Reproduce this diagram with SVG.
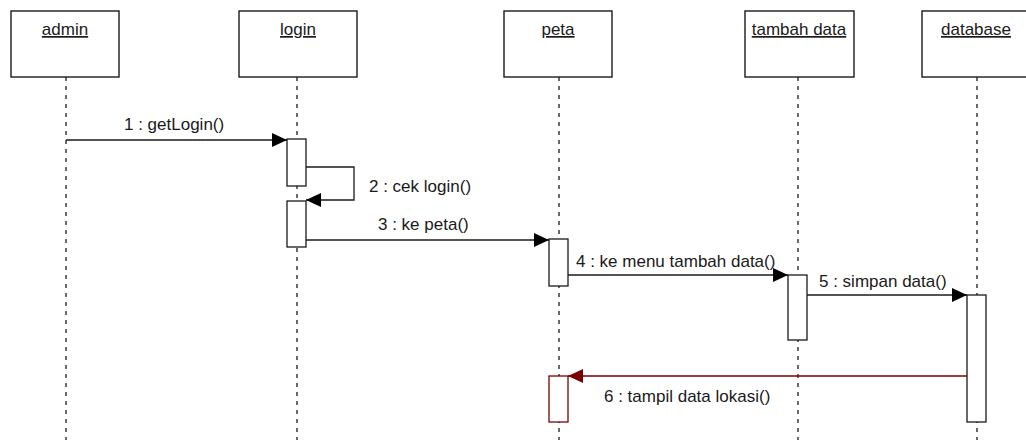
<svg xmlns="http://www.w3.org/2000/svg" width="1026" height="443" viewBox="0 0 1026 443">
<style>
.obj{fill:#fff;stroke:#1a1a1a;stroke-width:1.4}
.life{stroke:#1a1a1a;stroke-width:1.3;stroke-dasharray:4 5;fill:none}
.act{fill:#fff;stroke:#1a1a1a;stroke-width:1.3}
.act6{fill:#fff;stroke:#7a0000;stroke-width:1.3}
.msg{stroke:#1a1a1a;stroke-width:1.3;fill:none}
.ret{stroke:#7a0000;stroke-width:1.3;fill:none}
.t{font-family:"Liberation Sans",Arial,sans-serif;font-size:17px;fill:#1a1a1a}
.h{font-family:"Liberation Sans",Arial,sans-serif;font-size:17px;fill:#1a1a1a;text-anchor:middle;text-decoration:underline}
</style>
<defs>
<marker id="arr" markerUnits="userSpaceOnUse" markerWidth="16" markerHeight="14" refX="15" refY="7" orient="auto"><path d="M0,0 L15,7 L0,14 z" fill="#000"/></marker>
<marker id="arrR" markerUnits="userSpaceOnUse" markerWidth="16" markerHeight="14" refX="15" refY="7" orient="auto"><path d="M0,0 L15,7 L0,14 z" fill="#7a0000"/></marker>
</defs>
<g id="admin">
<rect class="obj" x="11" y="11" width="108" height="66"/>
<text class="h" x="65" y="35">admin</text>
<line class="life" x1="66" y1="77" x2="66" y2="440"/>
</g>
<g id="login">
<rect class="obj" x="239" y="11" width="118" height="66"/>
<text class="h" x="298" y="35">login</text>
<line class="life" x1="297" y1="77" x2="297" y2="440"/>
<rect class="act" x="287" y="139" width="19" height="47"/>
<rect class="act" x="287" y="201" width="19" height="46"/>
</g>
<g id="peta">
<rect class="obj" x="504" y="11" width="108" height="66"/>
<text class="h" x="558" y="35">peta</text>
<line class="life" x1="559" y1="77" x2="559" y2="440"/>
<rect class="act" x="549" y="239" width="19" height="47"/>
<rect class="act6" x="549" y="376" width="19" height="46"/>
</g>
<g id="tambah-data">
<rect class="obj" x="745" y="11" width="109" height="66"/>
<text class="h" x="799" y="35">tambah data</text>
<line class="life" x1="798" y1="77" x2="798" y2="440"/>
<rect class="act" x="788" y="275" width="19" height="65"/>
</g>
<g id="database">
<rect class="obj" x="922" y="11" width="108" height="66"/>
<text class="h" x="976" y="35">database</text>
<line class="life" x1="977" y1="77" x2="977" y2="440"/>
<rect class="act" x="967" y="295" width="19" height="127"/>
</g>
<g id="connectors">
<line class="msg" x1="66" y1="140" x2="287" y2="140" marker-end="url(#arr)"/>
<text class="t" x="124" y="130">1 : getLogin()</text>
<polyline class="msg" points="306,167 354,167 354,200 306,200" marker-end="url(#arr)"/>
<text class="t" x="369" y="192">2 : cek login()</text>
<line class="msg" x1="306" y1="240" x2="549" y2="240" marker-end="url(#arr)"/>
<text class="t" x="378" y="230">3 : ke peta()</text>
<line class="msg" x1="568" y1="275" x2="788" y2="275" marker-end="url(#arr)"/>
<text class="t" x="576" y="267">4 : ke menu tambah data()</text>
<line class="msg" x1="807" y1="295" x2="967" y2="295" marker-end="url(#arr)"/>
<text class="t" x="819" y="287">5 : simpan data()</text>
<line class="ret" x1="967" y1="376" x2="568" y2="376" marker-end="url(#arrR)"/>
<text class="t" x="604" y="402">6 : tampil data lokasi()</text>
</g>
</svg>
